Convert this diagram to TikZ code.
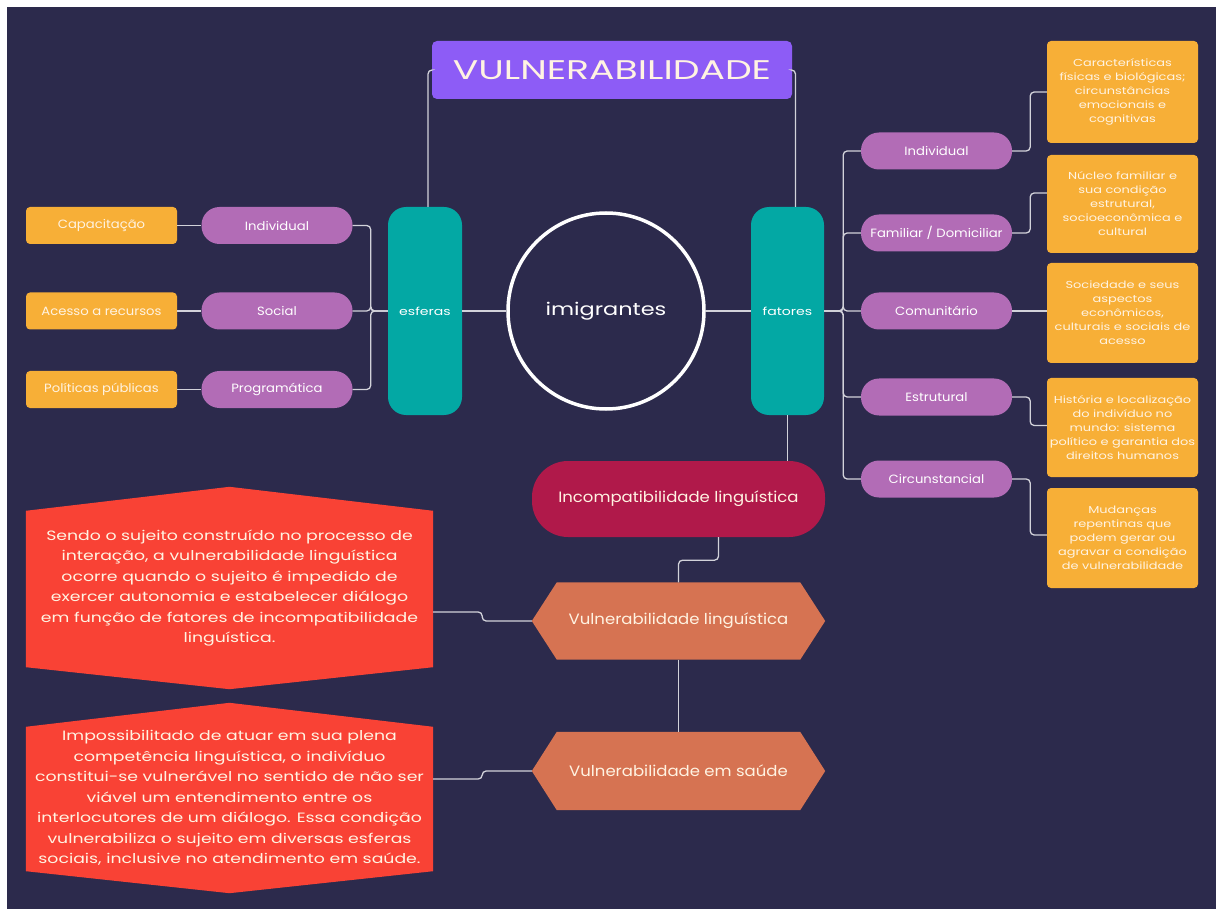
\documentclass[tikz,border=0pt]{standalone}
\usepackage{fontspec}
\setmainfont{Poppins}[FakeStretch=1.1]
\newfontfamily\widefont{Poppins}[FakeStretch=1.28]
\newfontfamily\xwidefont{Poppins}[FakeStretch=1.4]
\usetikzlibrary{backgrounds,calc}

\definecolor{bgnavy}{HTML}{2C2A4C}
\definecolor{titleviolet}{HTML}{8D5CF6}
\definecolor{sphereteal}{HTML}{03A8A4}
\definecolor{pillmauve}{HTML}{B26CB6}
\definecolor{tagorange}{HTML}{F7AF37}
\definecolor{incrimson}{HTML}{B0194A}
\definecolor{hexclay}{HTML}{D67352}
\definecolor{notered}{HTML}{F94235}
\definecolor{linegray}{HTML}{D2D2DA}
\definecolor{cream}{HTML}{FFF3E2}

\tikzset{
    conn/.style={draw=linegray, line width=1.3pt, rounded corners=4pt},
    pill/.style={fill=pillmauve, text=white, rounded corners=18pt, inner sep=0pt,
        minimum width=151pt, minimum height=37pt, font=\fontsize{12}{14}\selectfont},
    tagbox/.style={fill=tagorange, text=cream, rounded corners=4pt, inner sep=0pt,
        minimum width=151pt, minimum height=37pt, font=\fontsize{12}{14}\selectfont},
    notebox/.style={fill=tagorange, text=cream, rounded corners=4pt, inner sep=0pt,
        minimum width=151pt, align=center, font=\widefont\fontsize{10.1}{14}\selectfont},
    sphere/.style={fill=sphereteal, text=white, rounded corners=18pt, inner sep=0pt,
        minimum width=74pt, minimum height=208pt, font=\widefont\fontsize{11}{13}\selectfont},
    hexnode/.style={inner sep=0pt, minimum width=293pt, minimum height=77pt,
        text=cream, font=\fontsize{15}{18}\selectfont},
    redtext/.style={inner sep=0pt, minimum width=407pt, align=center,
        text=cream, font=\widefont\fontsize{13.5}{20.5}\selectfont}
}

\begin{document}
\begin{tikzpicture}[x=1pt, y=-1pt]
    \useasboundingbox (0, 0) rectangle (1216, 909);

    \node (title) at (612, 70) [fill=titleviolet, text=cream, rounded corners=5pt,
        minimum width=360pt, minimum height=58pt, inner sep=0pt,
        font=\xwidefont\fontsize{27}{30}\selectfont] {VULNERABILIDADE};

    \node (imig) at (606, 311) [circle, draw=white, line width=3.5pt, minimum size=196pt,
        text=white, font=\widefont\fontsize{17.5}{20}\selectfont] {imigrantes};
    \node (esf) at (425, 311) [sphere] {esferas};
    \node (fat) at (787.5, 311) [sphere, minimum width=73pt] {fatores};

    % left side: esferas
    \node (lInd) at (277, 225.5) [pill] {Individual};
    \node (lSoc) at (277, 311) [pill] {Social};
    \node (lProg) at (277, 389.5) [pill] {Programática};
    \node (lCap) at (101.5, 225.5) [tagbox] {Capacitação};
    \node (lAcc) at (101.5, 311) [tagbox] {Acesso a recursos};
    \node (lPol) at (101.5, 389.5) [tagbox] {Políticas públicas};

    % right side: fatores
    \node (rInd) at (936.5, 151) [pill] {Individual};
    \node (rFam) at (936.5, 233) [pill] {Familiar / Domiciliar};
    \node (rCom) at (936.5, 311) [pill] {Comunitário};
    \node (rEst) at (936.5, 397) [pill] {Estrutural};
    \node (rCir) at (936.5, 479) [pill] {Circunstancial};

    \node (o1) at (1122.5, 92) [notebox, minimum height=102pt]
        {Características\\físicas e biológicas;\\circunstâncias\\emocionais e\\cognitivas};
    \node (o2) at (1122.5, 204) [notebox, minimum height=98pt]
        {Núcleo familiar e\\sua condição\\estrutural,\\socioeconômica e\\cultural};
    \node (o3) at (1122.5, 313) [notebox, minimum height=100pt]
        {Sociedade e seus\\aspectos\\econômicos,\\culturais e sociais de\\acesso};
    \node (o4) at (1122.5, 427.5) [notebox, minimum height=99pt]
        {História e localização\\do indivíduo no\\mundo: sistema\\político e garantia dos\\direitos humanos};
    \node (o5) at (1122.5, 538) [notebox, minimum height=100pt]
        {Mudanças\\repentinas que\\podem gerar ou\\agravar a condição\\de vulnerabilidade};

    % bottom chain
    \node (inc) at (678.5, 499) [fill=incrimson, rounded corners=36pt, inner sep=0pt,
        minimum width=293pt, minimum height=76pt, text=cream,
        font=\fontsize{15}{18}\selectfont] {Incompatibilidade linguística};
    \node (vl) at (678.5, 621) [hexnode] {Vulnerabilidade linguística};
    \node (vs) at (678.5, 771) [hexnode, minimum height=78pt] {Vulnerabilidade em saúde};

    \node (r1) at (229.5, 588) [redtext, minimum height=202pt]
        {Sendo o sujeito construído no processo de\\interação, a vulnerabilidade linguística\\ocorre quando o sujeito é impedido de\\exercer autonomia e estabelecer diálogo\\em função de fatores de incompatibilidade\\linguística.};
    \node (r2) at (229.5, 798) [redtext, minimum height=190pt]
        {Impossibilitado de atuar em sua plena\\competência linguística, o indivíduo\\constitui-se vulnerável no sentido de não ser\\viável um entendimento entre os\\interlocutores de um diálogo. Essa condição\\vulnerabiliza o sujeito em diversas esferas\\sociais, inclusive no atendimento em saúde.};

    % connectors
    \draw[conn] (title.west) -| ([xshift=3pt]esf.north);
    \draw[conn] (title.east) -| ([xshift=8pt]fat.north);
    \draw[conn] (esf) -- (imig);
    \draw[conn] (imig) -- (fat);

    \draw[conn] (lCap) -- (lInd);
    \draw[conn] (lAcc) -- (lSoc);
    \draw[conn] (lPol) -- (lProg);
    \foreach \n in {lInd, lSoc, lProg}
        \draw[conn] (\n.east) -- ++(18, 0) |- (esf.west);

    \foreach \n in {rInd, rFam, rCom, rEst, rCir}
        \draw[conn] (fat.east) -- ++(19, 0) |- (\n.west);

    \draw[conn] (rInd.east) -- ++(18, 0) |- (o1.west);
    \draw[conn] (rFam.east) -- ++(18, 0) |- ([yshift=11pt]o2.west);
    \draw[conn] (rCom.east) -- (rCom.east -| o3.west);
    \draw[conn] (rEst.east) -- ++(18, 0) |- ([yshift=2pt]o4.west);
    \draw[conn] (rCir.east) -- ++(18, 0) |- ([yshift=3pt]o5.west);

    \draw[conn] (fat.south) -- (fat.south |- inc.north);
    \draw[conn] ([xshift=40pt]inc.south) -- ++(0, 23) -| (vl.north);
    \draw[conn] (vl) -- (vs);
    \draw[conn] ([yshift=-24pt]r1.east) -- ++(49, 0) |- (vl.west);
    \draw[conn] ([yshift=19pt]r2.east) -- ++(49, 0) |- (vs.west);

    \begin{scope}[on background layer]
        \fill[white] (0, 0) rectangle (1216, 909);
        \fill[bgnavy] (7, 7) rectangle (1216, 909);
        \foreach \n in {vl, vs}
            \fill[hexclay] (\n.west) -- ($(\n.north west)+(25, 0)$) -- ($(\n.north east)+(-25, 0)$)
                -- (\n.east) -- ($(\n.south east)+(-25, 0)$) -- ($(\n.south west)+(25, 0)$) -- cycle;
        \foreach \n in {r1, r2}
            \fill[notered] (\n.north) -- ($(\n.north east)+(0, 24)$) -- ($(\n.south east)+(0, -22)$)
                -- (\n.south) -- ($(\n.south west)+(0, -22)$) -- ($(\n.north west)+(0, 24)$) -- cycle;
    \end{scope}
\end{tikzpicture}
\end{document}
